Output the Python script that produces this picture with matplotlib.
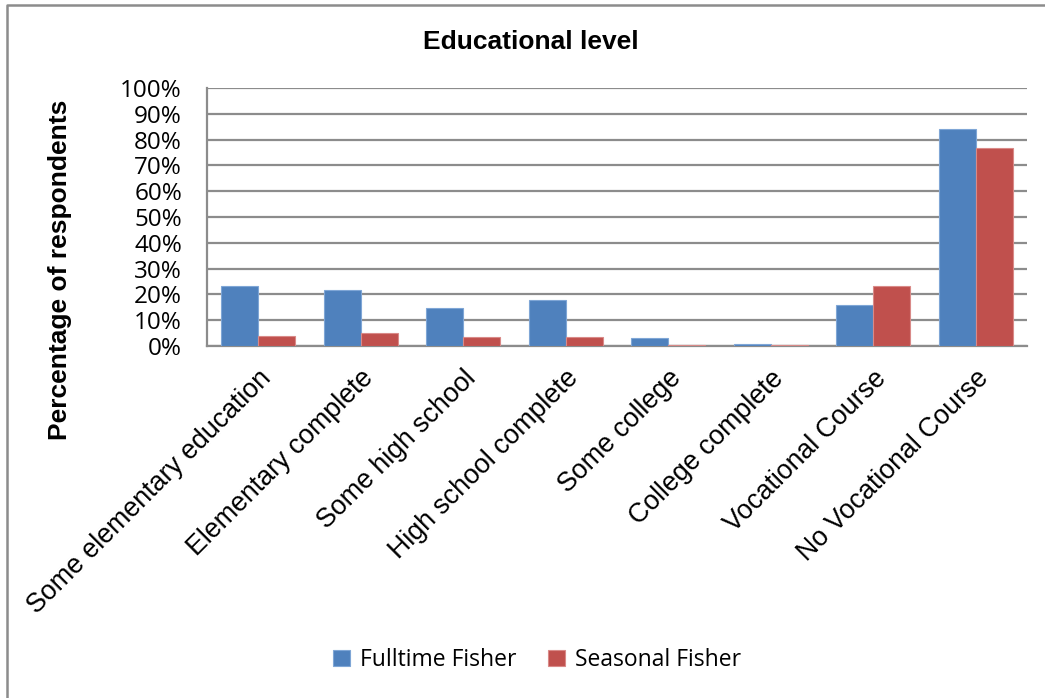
import matplotlib
matplotlib.use("Agg")
import matplotlib.pyplot as plt
from matplotlib.lines import Line2D
import numpy as np

categories = [
    "Some elementary education",
    "Elementary complete",
    "Some high school",
    "High school complete",
    "Some college",
    "College complete",
    "Vocational Course",
    "No Vocational Course",
]
fulltime = [23.4, 21.7, 14.7, 17.7, 3.0, 0.8, 16.0, 84.0]
seasonal = [3.9, 5.2, 3.6, 3.4, 0.3, 0.2, 23.3, 76.7]
series_names = ["Fulltime Fisher", "Seasonal Fisher"]
yticks = list(range(0, 101, 10))

BLUE = "#4F81BD"
RED = "#C0504D"
GRID = "#8C8C8C"

W, H = 1045, 698
fig = plt.figure(figsize=(W / 100, H / 100), dpi=100)
ax = fig.add_axes([207 / W, 1 - 346 / H, (1027 - 207) / W, (346 - 88) / H])

x = np.arange(len(categories))
bw = 0.36
ax.bar(x - bw / 2, fulltime, bw, color=BLUE, edgecolor="#7FA6D6", linewidth=0.8,
       label=series_names[0], zorder=3)
ax.bar(x + bw / 2, seasonal, bw, color=RED, edgecolor="#D98A88", linewidth=0.8,
       label=series_names[1], zorder=3)

ax.set_xlim(-0.5, len(categories) - 0.5)
ax.set_ylim(0, 100)
ax.set_yticks(yticks)
ax.set_yticklabels([f"{v}%" for v in yticks], fontfamily="Open Sans", fontsize=17.5)
ax.yaxis.grid(True, color=GRID, linewidth=1.6, zorder=0)
ax.set_axisbelow(True)
ax.tick_params(axis="y", length=0, pad=18)

ax.set_xticks(x)
ax.set_xticklabels(categories, rotation=45, ha="right", rotation_mode="anchor",
                   fontfamily="Liberation Sans", fontsize=19.3)
ax.tick_params(axis="x", length=0, pad=14)

for s in ["top", "right"]:
    ax.spines[s].set_visible(False)
for s in ["left", "bottom"]:
    ax.spines[s].set_color(GRID)
    ax.spines[s].set_linewidth(1.6)

fig.text(531 / W, 1 - 42 / H, "Educational level", ha="center", va="center",
         fontfamily="Liberation Sans", fontweight="bold", fontsize=19)
fig.text(60 / W, 1 - 270 / H, "Percentage of respondents", ha="center", va="center",
         rotation=90, fontfamily="Liberation Sans", fontweight="bold", fontsize=19)

handles, labels = ax.get_legend_handles_labels()
fig.legend(handles, labels, loc="center", bbox_to_anchor=(537 / W, 1 - 660 / H),
           ncol=2, frameon=False, prop={"family": "Open Sans", "size": 16.5},
           handlelength=0.75, handleheight=0.75, handletextpad=0.4, columnspacing=1.4)

# outer chart frame (left and top edges)
fig.add_artist(Line2D([6.5 / W, 6.5 / W, 1.0], [0.0, 1 - 4.5 / H, 1 - 4.5 / H],
                      transform=fig.transFigure, color="#8C8C8C", linewidth=1.8))

fig.savefig("out.png", dpi=100)
